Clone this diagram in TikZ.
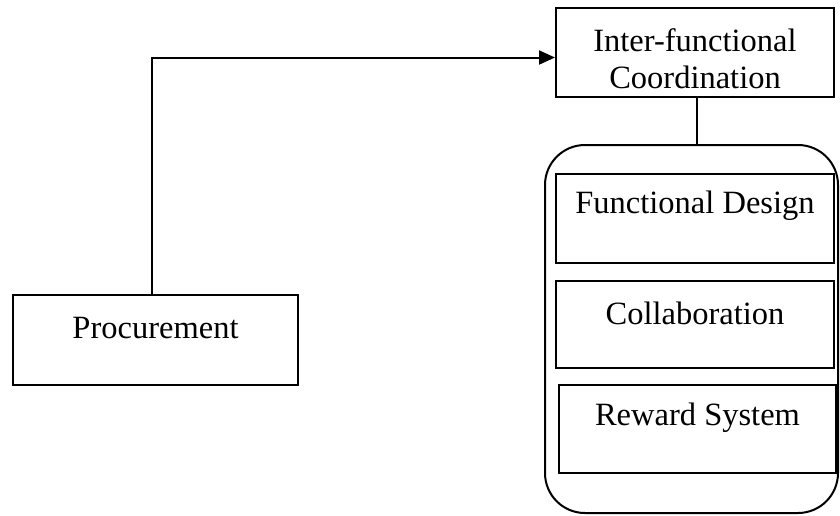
\documentclass[tikz,border=0pt]{standalone}
\usepackage{fontspec}
\setmainfont{Liberation Serif}
\usetikzlibrary{arrows.meta,calc}
\begin{document}
\begin{tikzpicture}[x=1pt,y=-1pt,
  box/.style={draw,line width=2pt,rectangle,inner sep=0pt},
  txt/.style={inner sep=0pt,font=\fontsize{32.5}{37}\selectfont,align=center},
  conn/.style={line width=2pt}]
\useasboundingbox (0,0) rectangle (840,515);
\node[box,minimum width=285pt,minimum height=90pt] (proc) at (155.5,340) {};
\node[txt] at (155.5,328) (proct) {Procurement};
\node[box,minimum width=278pt,minimum height=89pt] (inter) at (695,52.5) {};
\node[txt] at (695,59) (intert) {Inter-functional\\Coordination};
\node[box,rounded corners=40pt,minimum width=293pt,minimum height=368pt] (group) at (691.5,329) {};
\node[box,minimum width=278pt,minimum height=89pt] (fd) at (695,218.5) {};
\node[txt] at (695,206) (fdt) {Functional Design};
\node[box,minimum width=278pt,minimum height=87pt] (col) at (695,324.5) {};
\node[txt] at (695,313) (colt) {Collaboration};
\node[box,minimum width=277pt,minimum height=88pt] (rew) at (697.5,429) {};
\node[txt] at (697.5,418) (rewt) {Reward System};
\draw[conn,-{Triangle[length=16pt,width=14pt]}] ([xshift=-4pt]proc.north) |- ([yshift=-5pt]inter.west);
\draw[conn] ([xshift=2pt]inter.south) -- ([xshift=2pt]inter.south |- group.north);
\end{tikzpicture}
\end{document}
